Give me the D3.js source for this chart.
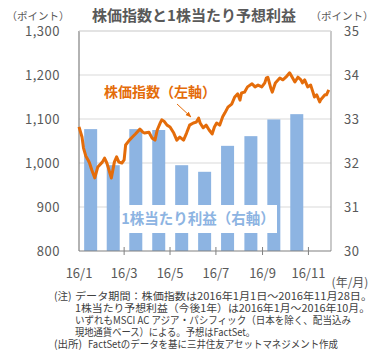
<!DOCTYPE html>
<html><head><meta charset="utf-8">
<script src="https://cdn.jsdelivr.net/npm/d3@7"></script>
<style>
html,body{margin:0;padding:0;background:#fff;}
svg{display:block;font-family:"Noto Sans CJK JP","Noto Sans",sans-serif;}
</style></head>
<body>
<svg id="chart" width="391" height="358"></svg>
<script>
// ---- data ----
const epsMonths = ["2016-01","2016-02","2016-03","2016-04","2016-05","2016-06","2016-07","2016-08","2016-09","2016-10"];
const epsValues = [32.77,31.95,32.77,32.75,31.95,31.8,32.39,32.61,32.99,33.11];
const indexDates = ["2016-01-01","2016-01-05","2016-01-07","2016-01-10","2016-01-13","2016-01-15","2016-01-18","2016-01-22","2016-01-26","2016-02-01","2016-02-04","2016-02-07","2016-02-09","2016-02-13","2016-02-17","2016-02-20","2016-02-23","2016-02-27","2016-03-01","2016-03-03","2016-03-08","2016-03-12","2016-03-16","2016-03-22","2016-03-26","2016-03-28","2016-04-03","2016-04-07","2016-04-11","2016-04-14","2016-04-18","2016-04-20","2016-04-23","2016-04-27","2016-05-01","2016-05-06","2016-05-10","2016-05-14","2016-05-19","2016-05-23","2016-05-27","2016-06-01","2016-06-05","2016-06-08","2016-06-10","2016-06-14","2016-06-18","2016-06-22","2016-06-26","2016-06-29","2016-07-02","2016-07-06","2016-07-10","2016-07-13","2016-07-17","2016-07-22","2016-07-26","2016-07-30","2016-08-02","2016-08-04","2016-08-08","2016-08-12","2016-08-18","2016-08-22","2016-08-26","2016-08-31","2016-09-04","2016-09-06","2016-09-08","2016-09-12","2016-09-14","2016-09-18","2016-09-24","2016-09-28","2016-10-02","2016-10-07","2016-10-11","2016-10-14","2016-10-18","2016-10-22","2016-10-24","2016-10-27","2016-10-31","2016-11-04","2016-11-07","2016-11-09","2016-11-12","2016-11-16","2016-11-17","2016-11-23","2016-11-25","2016-11-28"];
const indexValues = [1082,1059,1034,1016,1007,1000,984,966,991,1002,1011,1000,989,966,1002,1014,1002,1000,1007,1041,1052,1059,1066,1077,1070,1068,1070,1057,1052,1075,1091,1098,1095,1086,1082,1068,1052,1059,1052,1068,1086,1091,1093,1102,1091,1080,1086,1075,1066,1082,1091,1086,1105,1114,1127,1134,1150,1157,1143,1159,1161,1173,1180,1173,1177,1173,1182,1193,1195,1170,1161,1182,1193,1189,1195,1205,1193,1184,1195,1189,1182,1189,1173,1177,1161,1150,1155,1139,1143,1155,1155,1166];
const leftTicks = [800,900,1000,1100,1200,1300];
const leftTickLabels = ["800","900","1,000","1,100","1,200","1,300"];
const rightTicks = [30,31,32,33,34,35];
const xTickMonths = ["2016-01","2016-03","2016-05","2016-07","2016-09","2016-11"];
const xTickLabels = ["16/1","16/3","16/5","16/7","16/9","16/11"];
const title = "株価指数と1株当たり予想利益";
const unitLabel = "（ポイント）";
const lineLabel = "株価指数（左軸）";
const barLabel = "1株当たり利益（右軸）";
const xUnit = "(年/月)";
const noteHeads = ["(注)", "", "", "", "(出所)"];
const noteBodies = [
  "データ期間：株価指数は2016年1月1日～2016年11月28日。",
  "1株当たり予想利益（今後1年）は2016年1月～2016年10月。",
  "いずれもMSCI AC アジア・パシフィック（日本を除く、配当込み",
  "現地通貨ベース）による。予想はFactSet。",
  "FactSetのデータを基に三井住友アセットマネジメント作成"
];

// ---- layout ----
const svg = d3.select("#chart");
const L = 79, R = 331, T = 31, B = 251;
const parseDay = d3.timeParse("%Y-%m-%d");
const parseMonth = d3.timeParse("%Y-%m");
const x = d3.scaleTime().domain([new Date(2016,0,1), new Date(2016,11,1)]).range([L, R]);
const yL = d3.scaleLinear().domain([800,1300]).range([B, T]);
const yR = d3.scaleLinear().domain([30,35]).range([B, T]);
const gray = "#595959";

// gridlines
svg.append("g").selectAll("line").data(leftTicks.slice(1)).join("line")
  .attr("x1", L).attr("x2", R).attr("y1", d=>yL(d)).attr("y2", d=>yL(d))
  .attr("stroke", "#d9d9d9").attr("stroke-width", 1.2);

// bars
const barW = 13;
svg.append("g").selectAll("rect").data(epsMonths.map((m,i)=>({m:parseMonth(m), v:epsValues[i]}))).join("rect")
  .attr("x", d => (x(d.m) + x(d3.timeMonth.offset(d.m,1)))/2 - barW/2)
  .attr("width", barW)
  .attr("y", d => yR(d.v))
  .attr("height", d => B - yR(d.v))
  .attr("fill", "#8db4e2");

// bar label box
const bl = svg.append("g");
bl.append("rect").attr("x", 120).attr("y", 205).attr("width", 157).attr("height", 28).attr("fill", "#fff");
bl.append("text").attr("x", 198).attr("y", 224).attr("text-anchor","middle")
  .attr("font-size", 14.5).attr("font-weight", "bold").attr("fill", "#8db4e2").text(barLabel);

// axes lines
svg.append("line").attr("x1", L).attr("x2", L).attr("y1", T).attr("y2", B).attr("stroke", "#808080").attr("stroke-width", 1.2);
svg.append("line").attr("x1", R).attr("x2", R).attr("y1", T).attr("y2", B).attr("stroke", "#a6a6a6").attr("stroke-width", 1.2);
svg.append("line").attr("x1", L).attr("x2", R).attr("y1", T).attr("y2", T).attr("stroke", "#d9d9d9").attr("stroke-width", 1.2);
svg.append("line").attr("x1", L).attr("x2", R).attr("y1", B).attr("y2", B).attr("stroke", "#808080").attr("stroke-width", 1.2);

// x ticks
svg.append("g").selectAll("line").data(xTickMonths.slice(1)).join("line")
  .attr("x1", d=>x(parseMonth(d))).attr("x2", d=>x(parseMonth(d)))
  .attr("y1", B-4).attr("y2", B+4).attr("stroke", "#808080");
svg.append("g").selectAll("text").data(xTickMonths).join("text")
  .attr("x", d=>x(parseMonth(d))).attr("y", 278).attr("text-anchor","middle")
  .attr("font-size", 13).attr("fill", gray).text((d,i)=>xTickLabels[i]);

// y tick labels
svg.append("g").selectAll("text").data(leftTicks).join("text")
  .attr("x", 60).attr("y", d=>yL(d)+5).attr("text-anchor","end")
  .attr("font-size", 13).attr("fill", gray).attr("letter-spacing", 0.5).text((d,i)=>leftTickLabels[i]);
svg.append("g").selectAll("text").data(rightTicks).join("text")
  .attr("x", 344).attr("y", d=>yR(d)+5).attr("text-anchor","start")
  .attr("font-size", 13).attr("fill", gray).attr("letter-spacing", 0.5).text(d=>d);

// line
const lineData = indexDates.map((d,i)=>({d:parseDay(d), v:indexValues[i]}));
svg.append("path").datum(lineData)
  .attr("d", d3.line().x(d=>x(d.d)).y(d=>yL(d.v)))
  .attr("fill","none").attr("stroke","#e46c0a").attr("stroke-width",3).attr("stroke-linejoin","round");

// line label + arrow
svg.append("defs").append("marker").attr("id","arr").attr("viewBox","0 0 10 10")
  .attr("refX",9).attr("refY",5).attr("markerWidth",6).attr("markerHeight",6).attr("orient","auto")
  .append("path").attr("d","M0,1 L10,5 L0,9 z").attr("fill","#e46c0a");
svg.append("line").attr("x1",177).attr("y1",104).attr("x2",191).attr("y2",117)
  .attr("stroke","#e46c0a").attr("stroke-width",1).attr("marker-end","url(#arr)");
svg.append("text").attr("x",104).attr("y",97).attr("font-size",14).attr("font-weight","bold")
  .attr("fill","#e46c0a").text(lineLabel);

// title & units
svg.append("text").attr("x",194).attr("y",21).attr("text-anchor","middle")
  .attr("font-size",15).attr("font-weight","bold").attr("fill",gray).text(title);
svg.append("text").attr("x",38).attr("y",20).attr("text-anchor","middle")
  .attr("font-size",10.5).attr("fill",gray).text(unitLabel);
svg.append("text").attr("x",342).attr("y",20).attr("text-anchor","middle")
  .attr("font-size",10.5).attr("fill",gray).text(unitLabel);
svg.append("text").attr("x",350).attr("y",287).attr("text-anchor","middle")
  .attr("font-size",12).attr("fill",gray).text(xUnit);

// notes
const noteWidths = [297, 295, 276, 180, 250];
const ng = svg.append("g").attr("font-size",10.5).attr("fill","#404040");
noteBodies.forEach((b,i)=>{
  const yy = 300 + i*12;
  if (noteHeads[i]) ng.append("text").attr("x", 54).attr("y", yy).text(noteHeads[i]);
  ng.append("text").attr("x", i===4 ? 88 : 75).attr("y", yy)
    .attr("textLength", noteWidths[i]).attr("lengthAdjust","spacingAndGlyphs").text(b);
});
</script>
</body></html>
